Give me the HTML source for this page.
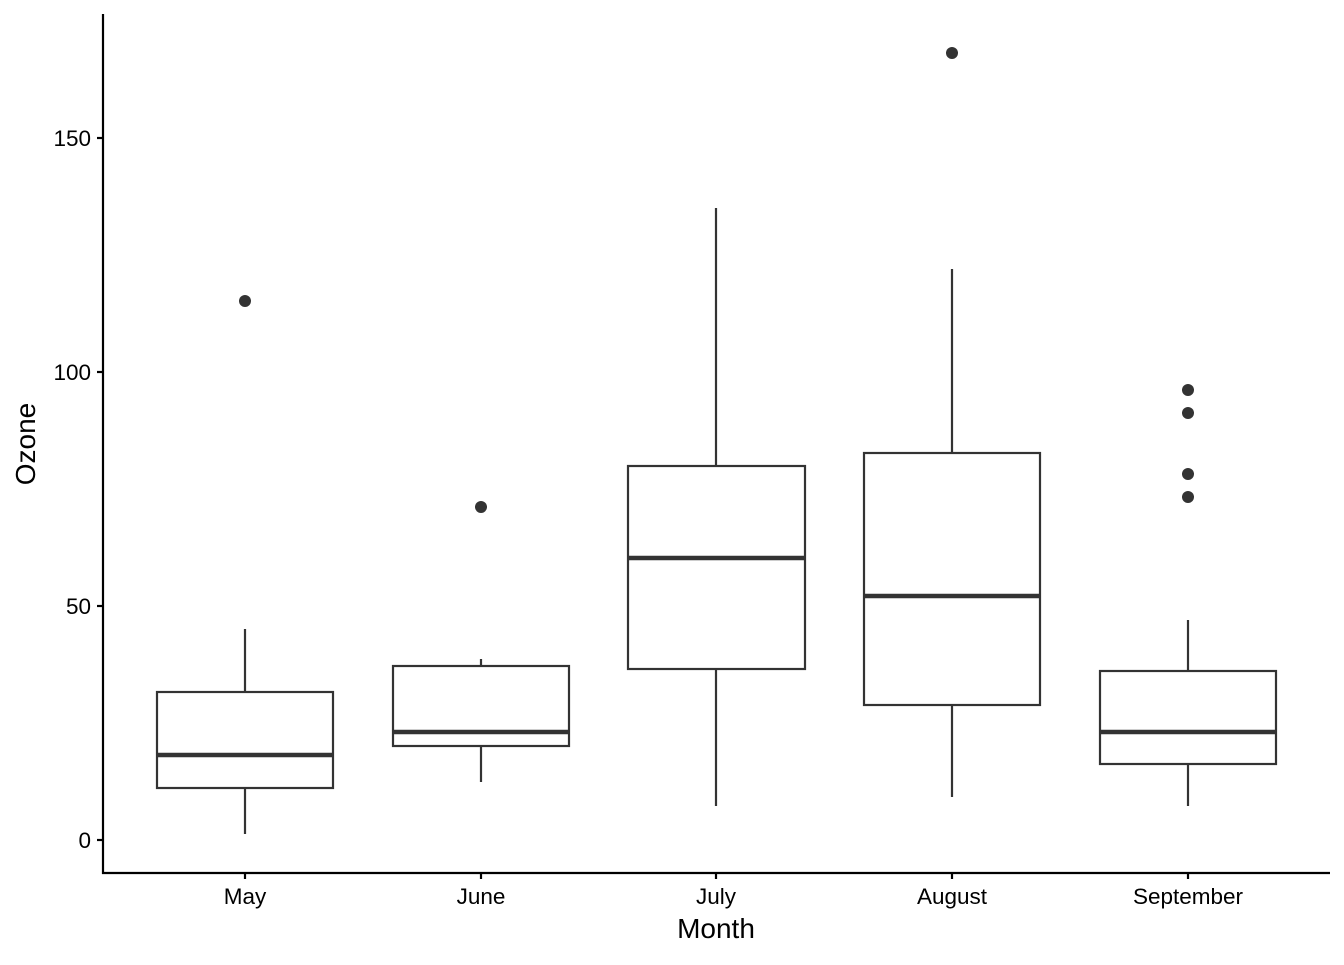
<!DOCTYPE html>
<html><head><style>body{margin:0;background:#fff}</style></head><body>
<svg width="1344" height="960" xmlns="http://www.w3.org/2000/svg" font-family="Liberation Sans, sans-serif">
<rect width="1344" height="960" fill="#fff"/>
<g stroke="#000" stroke-width="2.2" fill="none">
<line x1="103" y1="14" x2="103" y2="874"/>
<line x1="102" y1="873" x2="1330" y2="873"/>
<line x1="97" y1="840" x2="103" y2="840"/><line x1="97" y1="606" x2="103" y2="606"/>
<line x1="97" y1="372" x2="103" y2="372"/><line x1="97" y1="138" x2="103" y2="138"/>
<line x1="245" y1="873" x2="245" y2="879"/><line x1="481" y1="873" x2="481" y2="879"/>
<line x1="716" y1="873" x2="716" y2="879"/><line x1="952" y1="873" x2="952" y2="879"/>
<line x1="1188" y1="873" x2="1188" y2="879"/>
</g>
<g font-size="22.5" fill="#000" text-anchor="end">
<text x="91" y="848">0</text><text x="91" y="614">50</text><text x="91" y="380">100</text><text x="91" y="146">150</text>
</g>
<g font-size="22.5" fill="#000" text-anchor="middle">
<text x="245" y="904">May</text><text x="481" y="904">June</text><text x="716" y="904">July</text><text x="952" y="904">August</text><text x="1188" y="904">September</text>
<text x="716" y="938" font-size="28">Month</text>
<text transform="translate(35,444) rotate(-90)" font-size="28">Ozone</text>
</g>
<g stroke="#333" stroke-width="2.2" fill="#fff">
<line x1="245" y1="629" x2="245" y2="692"/><line x1="245" y1="788" x2="245" y2="834"/>
<rect x="157" y="692" width="176" height="96"/>
<line x1="481" y1="659" x2="481" y2="666"/><line x1="481" y1="746" x2="481" y2="782"/>
<rect x="393" y="666" width="176" height="80"/>
<line x1="716" y1="208" x2="716" y2="466"/><line x1="716" y1="669" x2="716" y2="806"/>
<rect x="628" y="466" width="177" height="203"/>
<line x1="952" y1="269" x2="952" y2="453"/><line x1="952" y1="705" x2="952" y2="797"/>
<rect x="864" y="453" width="176" height="252"/>
<line x1="1188" y1="620" x2="1188" y2="671"/><line x1="1188" y1="764" x2="1188" y2="806"/>
<rect x="1100" y="671" width="176" height="93"/>
</g>
<g stroke="#333" stroke-width="4.5">
<line x1="157" y1="755" x2="333" y2="755"/><line x1="393" y1="732" x2="569" y2="732"/>
<line x1="628" y1="558" x2="805" y2="558"/><line x1="864" y1="596" x2="1040" y2="596"/>
<line x1="1100" y1="732" x2="1276" y2="732"/>
</g>
<g fill="#333">
<circle cx="245" cy="301" r="6"/><circle cx="481" cy="507" r="6"/><circle cx="952" cy="53" r="6"/>
<circle cx="1188" cy="390" r="6"/><circle cx="1188" cy="413" r="6"/><circle cx="1188" cy="474" r="6"/><circle cx="1188" cy="497" r="6"/>
</g>
</svg>
</body></html>
